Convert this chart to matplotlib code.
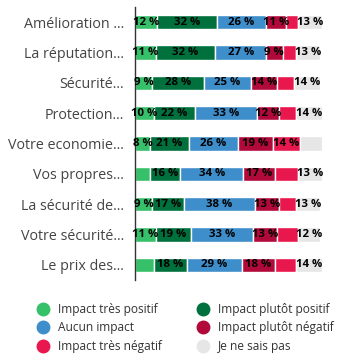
import matplotlib.pyplot as plt
import numpy as np
from matplotlib.lines import Line2D

plt.rcParams["font.family"] = ["Open Sans", "DejaVu Sans"]

categories = [
    "Amélioration ...",
    "La réputation...",
    "Sécurité...",
    "Protection...",
    "Votre economie...",
    "Vos propres...",
    "La sécurité de...",
    "Votre sécurité...",
    "Le prix des...",
]
series_names = [
    "Impact très positif",
    "Impact plutôt positif",
    "Aucun impact",
    "Impact plutôt négatif",
    "Impact très négatif",
    "Je ne sais pas",
]
colors = ["#37c06a", "#00703c", "#3d8ecb", "#b0093a", "#e8174d", "#e6e6e6"]

tres_positif = [12, 11, 9, 10, 8, 8, 9, 11, 10]
plutot_positif = [32, 32, 28, 22, 21, 16, 17, 19, 18]
aucun = [26, 27, 25, 33, 26, 34, 38, 33, 29]
plutot_negatif = [11, 9, 14, 12, 19, 17, 13, 13, 18]
tres_negatif = [6, 7, 9, 9, 14, 12, 9, 11, 11]
ne_sais_pas = [13, 13, 14, 14, 12, 13, 13, 12, 14]

# which segments carry a label in the original
shown = [
    [1, 1, 1, 1, 0, 1],
    [1, 1, 1, 1, 0, 1],
    [1, 1, 1, 1, 0, 1],
    [1, 1, 1, 1, 0, 1],
    [1, 1, 1, 1, 1, 0],
    [0, 1, 1, 1, 0, 1],
    [1, 1, 1, 1, 0, 1],
    [1, 1, 1, 1, 0, 1],
    [0, 1, 1, 1, 0, 1],
]

series = [tres_positif, plutot_positif, aucun, plutot_negatif, tres_negatif, ne_sais_pas]

fig = plt.figure(figsize=(3.56, 3.64), dpi=100)
ax = fig.add_axes([135 / 356, 1 - 280 / 364, 187 / 356, 273 / 364])

y = np.arange(len(categories))
left = np.zeros(len(categories))
for j, (vals, col) in enumerate(zip(series, colors)):
    vals = np.array(vals, dtype=float)
    ax.barh(y, vals, left=left, height=0.47, color=col, edgecolor="white", linewidth=1.0)
    for i, v in enumerate(vals):
        if shown[i][j]:
            ax.text(left[i] + v / 2, y[i], f"{int(v)} %", ha="center", va="center",
                    fontsize=8.2, fontweight="bold", color="black")
    left += vals

ax.set_xlim(0, 100)
ax.set_ylim(len(categories) - 0.5, -0.5)
ax.set_yticks(y)
ax.set_yticklabels(categories, fontsize=10.3, color="#444444")
ax.tick_params(axis="y", length=0, pad=8)
ax.set_xticks([])
for side in ["top", "right", "bottom"]:
    ax.spines[side].set_visible(False)
ax.spines["left"].set_color("#333333")
ax.spines["left"].set_linewidth(1.0)

handles = [
    Line2D([0], [0], marker="o", linestyle="", markersize=9,
           markerfacecolor=c, markeredgecolor=c)
    for c in colors
]
order = [0, 2, 4, 1, 3, 5]
fig.legend(
    [handles[k] for k in order],
    [series_names[k] for k in order],
    loc="center",
    bbox_to_anchor=(0.512, 1 - 328 / 364),
    ncol=2,
    frameon=False,
    fontsize=8.6,
    handletextpad=0.3,
    columnspacing=2.4,
    labelspacing=0.45,
    labelcolor="#333333",
)

fig.savefig("out.png", dpi=100)
